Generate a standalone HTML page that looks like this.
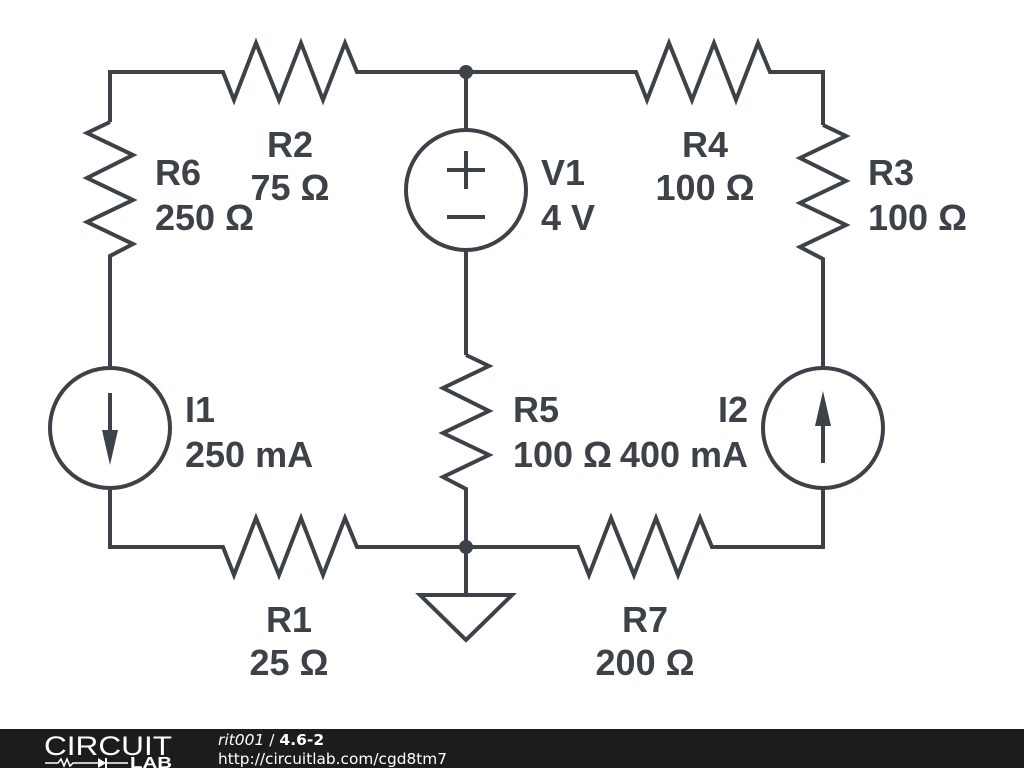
<!DOCTYPE html>
<html><head><meta charset="utf-8"><style>
html,body{margin:0;padding:0;background:#fff;}
svg{display:block}
.t{font-family:"Liberation Sans",sans-serif;font-weight:bold;font-size:36px;fill:#3c4248}
</style></head><body>
<svg width="1024" height="768" viewBox="0 0 1024 768" xmlns="http://www.w3.org/2000/svg">
<g stroke="#3c4248" stroke-width="4" fill="none" stroke-linejoin="miter">
<polyline points="110,122 110,72 223,72 234,100 256,43 279,100 301,43 323,100 345,43 357,72 636,72 647,100 669,43 692,100 714,43 736,100 758,43 770,72 823,72 823,125"/>
<polyline points="110,122 87,133 133,155 87,178 133,200 87,222 133,244 110,256 110,368"/>
<polyline points="823,125 846,136 800,158 846,181 800,203 846,225 800,247 823,259 823,368"/>
<line x1="466" y1="72" x2="466" y2="130"/>
<circle cx="466" cy="190" r="60"/>
<line x1="466" y1="250" x2="466" y2="355"/>
<line x1="447" y1="170" x2="485" y2="170"/><line x1="466" y1="151" x2="466" y2="189"/>
<line x1="447" y1="217" x2="485" y2="217"/>
<polyline points="466,355 489,366 443,388 489,411 443,433 489,455 443,477 466,489 466,547"/>
<circle cx="110" cy="428" r="60"/>
<line x1="110" y1="393" x2="110" y2="440"/>
<circle cx="823" cy="428" r="60"/>
<line x1="823" y1="416" x2="823" y2="463"/>
<polyline points="110,488 110,547 223,547 234,575 256,518 279,575 301,518 323,575 345,518 357,547 578,547 589,575 611,518 634,575 656,518 678,575 700,518 712,547 823,547 823,488"/>
<line x1="466" y1="547" x2="466" y2="595"/>
<polygon points="420,595 512,595 466,640"/>
</g>
<g fill="#3c4248">
<circle cx="466" cy="72" r="7"/><circle cx="466" cy="547" r="7"/>
<polygon points="102,430 118,430 110,465"/>
<polygon points="815,426 831,426 823,391"/>
</g>
<text class="t" x="290" y="157" text-anchor="middle">R2</text>
<text class="t" x="290" y="200" text-anchor="middle">75 Ω</text>
<text class="t" x="155" y="185">R6</text>
<text class="t" x="155" y="230">250 Ω</text>
<text class="t" x="541" y="185">V1</text>
<text class="t" x="541" y="230">4 V</text>
<text class="t" x="705" y="157" text-anchor="middle">R4</text>
<text class="t" x="705" y="200" text-anchor="middle">100 Ω</text>
<text class="t" x="868" y="185">R3</text>
<text class="t" x="868" y="230">100 Ω</text>
<text class="t" x="185" y="422">I1</text>
<text class="t" x="185" y="467">250 mA</text>
<text class="t" x="513" y="422">R5</text>
<text class="t" x="513" y="467">100 Ω</text>
<text class="t" x="748" y="422" text-anchor="end">I2</text>
<text class="t" x="748" y="467" text-anchor="end">400 mA</text>
<text class="t" x="289" y="632" text-anchor="middle">R1</text>
<text class="t" x="289" y="675" text-anchor="middle">25 Ω</text>
<text class="t" x="645" y="632" text-anchor="middle">R7</text>
<text class="t" x="645" y="675" text-anchor="middle">200 Ω</text>
<rect x="0" y="729" width="1024" height="39" fill="#1c1c1c"/>
<text x="44" y="755" font-family="Liberation Sans,sans-serif" font-size="27" fill="#fff" textLength="128" lengthAdjust="spacingAndGlyphs">CIRCUIT</text>
<polyline points="45,763 58,763 61,759 64,766 67,759 70,766 73,763 98,763" stroke="#fff" stroke-width="1.5" fill="none"/>
<polygon points="98,758 98,768 106,763" fill="#fff"/>
<line x1="106" y1="758" x2="106" y2="768" stroke="#fff" stroke-width="2"/>
<line x1="106" y1="763" x2="128" y2="763" stroke="#fff" stroke-width="1.5"/>
<text x="130" y="768" font-family="Liberation Sans,sans-serif" font-weight="bold" font-size="16" fill="#fff" textLength="42" lengthAdjust="spacingAndGlyphs">LAB</text>
<text x="218" y="745" font-family="DejaVu Sans,sans-serif" font-size="15.5" fill="#fff"><tspan font-style="italic">rit001</tspan> / <tspan font-weight="bold">4.6-2</tspan></text>
<text x="218" y="764" font-family="DejaVu Sans,sans-serif" font-size="15.5" fill="#fff" textLength="229" lengthAdjust="spacingAndGlyphs">http://circuitlab.com/cgd8tm7</text>
</svg>
</body></html>
